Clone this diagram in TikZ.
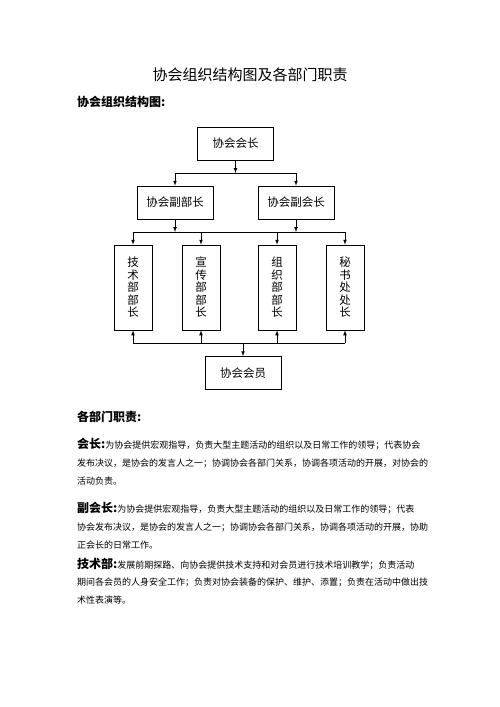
\documentclass[tikz,border=0pt]{standalone}
\usepackage{fontspec}
\setmainfont{Noto Sans CJK SC}
\usepackage{tikz}
\usetikzlibrary{arrows, calc, positioning}

\tikzset{
    box/.style={draw, line width=0.7pt, minimum width=76pt, minimum height=33pt, font=\fontsize{11.5}{12}\selectfont},
    vbox/.style={draw, line width=0.7pt, minimum width=38pt, minimum height=85pt, align=center, font=\fontsize{11.5}{12.5}\selectfont},
    line/.style={anchor=west, inner sep=0pt, font=\fontsize{9}{9}\selectfont},
    wire/.style={line width=0.7pt},
    arw/.style={wire, -latex}
}
\newcommand{\hd}[1]{{\bfseries\fontsize{12}{12}\selectfont #1}}

\begin{document}
\begin{tikzpicture}[x=1pt, y=-1pt]
                        \useasboundingbox[fill=white] (0, 0) rectangle (500, 707);
                        % titles
                        \node[font=\fontsize{15}{15}\selectfont] (title) at (250, 75) {协会组织结构图及各部门职责};
                        \node[anchor=west, inner sep=0pt, font=\bfseries\fontsize{12}{12}\selectfont] (sub) at (77, 102) {协会组织结构图:};
                        % chart
                        \node[box] (pres) at (235.5, 143.5) {协会会长};
                        \node[box] (vpL) at (175, 202.5) {协会副部长};
                        \node[box] (vpR) at (296, 202.5) {协会副会长};
                        \node[vbox] (tech) at (133, 287.5) {技\\术\\部\\部\\长};
                        \node[vbox] (pub) at (201, 287.5) {宣\\传\\部\\部\\长};
                        \node[vbox] (org) at (277, 287.5) {组\\织\\部\\部\\长};
                        \node[vbox] (sec) at (345, 287.5) {秘\\书\\处\\处\\长};
                        \node[box] (mem) at (243, 373) {协会会员};
                        \coordinate (j1) at (235.5, 173);
                        \coordinate (j2) at (0, 232);
                        \coordinate (j3) at (0, 343);
                        \draw[arw] (pres) -- (j1);
                        \draw[wire] (j1 -| vpL) -- (j1 -| vpR);
                        \draw[arw] (j1 -| vpL) -- (vpL);
                        \draw[arw] (j1 -| vpR) -- (vpR);
                        \draw[arw] (vpL) -- (vpL |- j2);
                        \draw[arw] (vpR) -- (vpR |- j2);
                        \draw[wire] (j2 -| tech) -- (j2 -| sec);
                        \draw[arw] (j2 -| tech) -- (tech);
                        \draw[arw] (j2 -| pub) -- (pub);
                        \draw[arw] (j2 -| org) -- (org);
                        \draw[arw] (j2 -| sec) -- (sec);
                        \draw[wire] (j3 -| tech) -- (j3 -| sec);
                        \draw[arw] (j3 -| tech) -- (tech);
                        \draw[arw] (j3 -| pub) -- (pub);
                        \draw[arw] (j3 -| org) -- (org);
                        \draw[arw] (j3 -| sec) -- (sec);
                        \draw[arw] (j3 -| mem) -- (mem);
                        % duties
                        \node[anchor=west, inner sep=0pt, font=\bfseries\fontsize{12}{12}\selectfont] (duty) at (77, 417) {各部门职责:};
                        \node[line] (p1a) at (77, 444) {\hd{会长:}为协会提供宏观指导，负责大型主题活动的组织以及日常工作的领导；代表协会};
                        \node[line] (p1b) at (77, 463) {发布决议，是协会的发言人之一；协调协会各部门关系，协调各项活动的开展，对协会的};
                        \node[line] (p1c) at (77, 481) {活动负责。};
                        \node[line] (p2a) at (77, 508) {\hd{副会长:}为协会提供宏观指导，负责大型主题活动的组织以及日常工作的领导；代表};
                        \node[line] (p2b) at (77, 527) {协会发布决议，是协会的发言人之一；协调协会各部门关系，协调各项活动的开展，协助};
                        \node[line] (p2c) at (77, 545) {正会长的日常工作。};
                        \node[line] (p3a) at (77, 564) {\hd{技术部:}发展前期探路、向协会提供技术支持和对会员进行技术培训教学；负责活动};
                        \node[line] (p3b) at (77, 582) {期间各会员的人身安全工作；负责对协会装备的保护、维护、添置；负责在活动中做出技};
                        \node[line] (p3c) at (77, 600) {术性表演等。};
                    \end{tikzpicture}
\end{document}
